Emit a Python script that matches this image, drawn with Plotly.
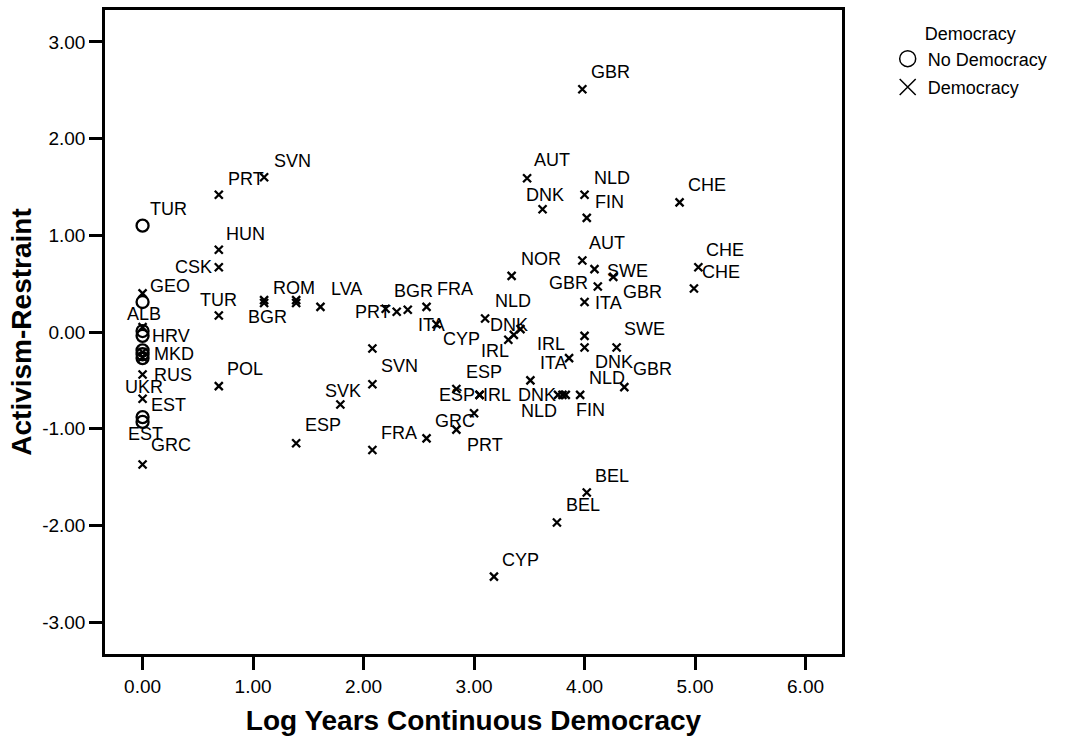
import plotly.graph_objects as go

# ---------------- data ----------------
# Democracy (crosses)
dem_code = ["GEO", "", "", "", "RUS", "UKR", "GRC",
            "PRT", "HUN", "CSK", "TUR", "POL",
            "SVN", "BGR", "", "ROM", "", "ESP",
            "LVA", "SVK", "", "SVN", "FRA",
            "PRT", "BGR", "", "FRA", "GRC", "ITA",
            "ESP", "PRT", "", "ESP", "IRL", "NLD", "CYP",
            "IRL", "CYP", "DNK", "NOR", "AUT", "ITA", "DNK",
            "BEL", "DNK", "NLD", "FIN", "NLD", "IRL",
            "GBR", "AUT", "NLD", "ITA", "", "DNK", "FIN", "BEL",
            "SWE", "GBR", "GBR", "SWE", "GBR",
            "CHE", "CHE", "CHE"]
dem_x = [0.00, 0.00, 0.00, 0.00, 0.00, 0.00, 0.00,
         0.69, 0.69, 0.69, 0.69, 0.69,
         1.10, 1.10, 1.10, 1.39, 1.39, 1.39,
         1.61, 1.79, 2.08, 2.08, 2.08,
         2.20, 2.30, 2.40, 2.57, 2.57, 2.66,
         2.84, 2.84, 3.00, 3.05, 3.05, 3.10, 3.18,
         3.31, 3.36, 3.42, 3.34, 3.48, 3.51, 3.62,
         3.75, 3.76, 3.80, 3.83, 3.96, 3.86,
         3.98, 3.98, 4.00, 4.00, 4.00, 4.00, 4.02, 4.02,
         4.09, 4.12, 4.26, 4.29, 4.36,
         4.86, 4.99, 5.03]
dem_y = [0.40, 0.05, -0.21, -0.26, -0.44, -0.69, -1.37,
         1.42, 0.85, 0.67, 0.17, -0.56,
         1.60, 0.30, 0.33, 0.33, 0.30, -1.15,
         0.26, -0.75, -0.17, -0.54, -1.22,
         0.24, 0.21, 0.23, 0.26, -1.10, 0.08,
         -0.59, -1.01, -0.84, -0.65, -0.65, 0.14, -2.53,
         -0.08, -0.03, 0.03, 0.58, 1.59, -0.50, 1.27,
         -1.97, -0.65, -0.65, -0.65, -0.65, -0.27,
         2.51, 0.74, 1.42, 0.31, -0.04, -0.16, 1.18, -1.66,
         0.65, 0.47, 0.57, -0.16, -0.57,
         1.34, 0.45, 0.67]

# No Democracy (circles)
nodem_code = ["TUR", "ALB", "", "HRV", "", "MKD", "", "EST", "EST"]
nodem_x = [0.00, 0.00, 0.00, 0.00, 0.00, 0.00, 0.00, 0.00, 0.00]
nodem_y = [1.10, 0.31, 0.01, -0.04, -0.19, -0.23, -0.27, -0.88, -0.93]

x_ticks = [0, 1, 2, 3, 4, 5, 6]
y_ticks = [-3, -2, -1, 0, 1, 2, 3]
x_tick_labels = [f"{v:.2f}" for v in x_ticks]
y_tick_labels = [f"{v:.2f}" for v in y_ticks]

# ---------------- label placement (pixel offsets, style only) ----------------
dem_label_dx = [27.5, 0, 0, 0, 30, 1, 28,
                27.5, 26.5, -25, 0, 26.5,
                28, 3, 0, -2, 0, 26.5,
                26.5, 3, 0, 27, 27,
                -13, 17, 0, 28, 28, -5,
                28, 28.5, 0, -22.5, 17.5, 27.5, 27,
                -13, -52, -11, 29, 25, 23, 2,
                26, -21.5, -23, 25, 27, -18,
                28, 25, 27, 24, 0, 29, 23, 25,
                33, -29, 29, 28, 28,
                27, 27, 27]
dem_label_dy = [-7, 0, 0, 0, 0, -11.5, -19,
                -16, -16, 0, -16, -17,
                -16, 14, 0, -12, 0, -18,
                -18, -14, 0, -18, -17,
                3, -21, 0, -18, -17, 1,
                -17, 15, 0, 0, 0, -17, -17,
                11, 4, -4, -17, -18, -17, -14,
                -17, 0, 16, 15, -17, -14,
                -17, -17, -17, 1, 0, 15, -16, -17,
                2, -4, 15, -18, -18,
                -17, -16, -17]
nodem_label_dx = [26, 1, 0, 28, 0, 31, 0, 26, 3]
nodem_label_dy = [-17, 12, 0, 0, 0, 0, 0, -12, 12]

FONT = "Arial, Liberation Sans, Helvetica, sans-serif"

fig = go.Figure()

# data traces
fig.add_trace(go.Scatter(
    x=nodem_x, y=nodem_y, mode="markers", name="No Democracy", showlegend=False,
    marker=dict(symbol="circle-open", size=12, color="black", line=dict(width=2.3, color="black")),
    hoverinfo="text", text=nodem_code))
fig.add_trace(go.Scatter(
    x=dem_x, y=dem_y, mode="markers", name="Democracy", showlegend=False,
    marker=dict(symbol="x-thin-open", size=8, color="black", line=dict(width=2.3, color="black")),
    hoverinfo="text", text=dem_code))

# legend-only traces (larger, thin symbols like the reference legend)
fig.add_trace(go.Scatter(
    x=[None], y=[None], mode="markers", name="No Democracy", legendgroup="g1",
    marker=dict(symbol="circle-open", size=16, color="black", line=dict(width=1.5, color="black"))))
fig.add_trace(go.Scatter(
    x=[None], y=[None], mode="markers", name="Democracy", legendgroup="g2",
    marker=dict(symbol="x-thin-open", size=16, color="black", line=dict(width=1.5, color="black"))))

annotations = []
for codes, xs, ys, dxs, dys in [(nodem_code, nodem_x, nodem_y, nodem_label_dx, nodem_label_dy),
                                (dem_code, dem_x, dem_y, dem_label_dx, dem_label_dy)]:
    for c, xv, yv, dx, dy in zip(codes, xs, ys, dxs, dys):
        if not c:
            continue
        annotations.append(dict(
            x=xv, y=yv, xref="x", yref="y", text=c, showarrow=False,
            xanchor="center", yanchor="middle", xshift=dx, yshift=-dy,
            font=dict(family=FONT, size=18, color="black")))

fig.update_layout(
    width=1068, height=738,
    margin=dict(l=105, r=226, t=7, b=83),
    paper_bgcolor="white", plot_bgcolor="white",
    font=dict(family=FONT, color="black"),
    annotations=annotations,
    showlegend=True,
    legend=dict(
        x=1.062, y=0.989, xanchor="left", yanchor="top",
        title=dict(text="Democracy", side="top center", font=dict(family=FONT, size=18)),
        font=dict(family=FONT, size=18), bgcolor="rgba(0,0,0,0)",
        tracegroupgap=2, itemsizing="trace"),
    xaxis=dict(
        range=[-0.34, 6.33], tickvals=x_ticks, ticktext=x_tick_labels,
        ticks="outside", ticklen=13, tickwidth=2.5, tickcolor="black",
        showline=True, linewidth=2.5, linecolor="black", mirror=True,
        showgrid=False, zeroline=False,
        tickfont=dict(family=FONT, size=19),
        title=dict(text="Log Years Continuous Democracy",
                   font=dict(family=FONT, size=28, weight="bold"))),
    yaxis=dict(
        range=[-3.33, 3.33], tickvals=y_ticks, ticktext=y_tick_labels,
        ticks="outside", ticklen=13, tickwidth=2.5, tickcolor="black",
        showline=True, linewidth=2.5, linecolor="black", mirror=True,
        showgrid=False, zeroline=False,
        tickfont=dict(family=FONT, size=19),
        title=dict(text="Activism-Restraint", standoff=3,
                   font=dict(family=FONT, size=28, weight="bold"))),
)

fig.write_html("out.html", config={"displayModeBar": False},
               post_script="document.body.style.margin='0';document.body.style.overflow='hidden';")
